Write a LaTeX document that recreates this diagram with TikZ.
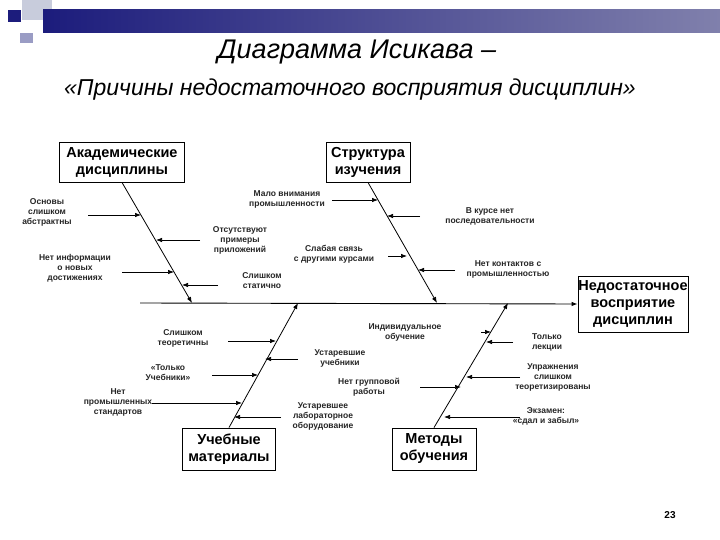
\documentclass[tikz,border=0pt]{standalone}
\usepackage{fontspec}
\setmainfont{Liberation Sans}
\usetikzlibrary{arrows.meta}
\definecolor{navy}{HTML}{1C1C7C}
\definecolor{navyl}{HTML}{8080AC}
\definecolor{sq1}{HTML}{C8CCDC}
\definecolor{sq2}{HTML}{9A9CC4}
\begin{document}
\begin{tikzpicture}[x=1pt,y=-1pt,
  box/.style={draw,line width=0.9pt,font=\bfseries\fontsize{14.5}{17}\selectfont,align=center,inner sep=0pt},
  lbl/.style={font=\bfseries\fontsize{8.5}{10}\selectfont,align=center,inner sep=0pt,text=black!85},
  cause/.style={-{Latex[length=6pt,width=4.5pt]},line width=0.7pt},
  bone/.style={line width=0.8pt,-{Latex[length=6pt,width=4.5pt]}}]
\useasboundingbox (0,0) rectangle (720,540);
\fill[white] (0,0) rectangle (720,540);
% header decoration
\fill[sq1] (22,0) rectangle (52,20);
\fill[sq2] (20,33) rectangle (33,43);
\fill[navy] (8,10) rectangle (21,22);
\shade[left color=navy,right color=navyl] (43,10) rectangle (720,33);
% titles
\node[font=\itshape\fontsize{27}{30}\selectfont] (t1) at (357,52) {Диаграмма Исикава –};
\node[font=\itshape\fontsize{23}{26}\selectfont] (t2) at (350,90) {«Причины недостаточного восприятия дисциплин»};
% boxes
\node[box,minimum width=125,minimum height=40] (A) at (122,162) {Академические\\дисциплины};
\node[box,minimum width=84,minimum height=40] (S) at (368,162) {Структура\\изучения};
\node[box,minimum width=110,minimum height=56] (N) at (633,304) {Недостаточное\\восприятие\\дисциплин};
\node[box,minimum width=93,minimum height=42] (U) at (229,449) {Учебные\\материалы};
\node[box,minimum width=84,minimum height=42] (M) at (434,449) {Методы\\обучения};
% spine
\coordinate (s0) at (140,303);
\draw[cause,line width=0.9pt] (s0) -- (N.west);
% bones
\coordinate (b1e) at (192,303);
\coordinate (b2e) at (437,303);
\coordinate (b3e) at (298,303);
\coordinate (b4e) at (508,303);
\draw[bone] (A.south) -- (b1e);
\draw[bone] (S.south) -- (b2e);
\draw[bone] (U.north) -- (b3e);
\draw[bone] (M.north) -- (b4e);
% bone 1 causes
\node[lbl] (a1) at (47,212) {Основы\\слишком\\абстрактны};
\node[lbl] (a2) at (240,240) {Отсутствуют\\примеры\\приложений};
\node[lbl] (a3) at (75,268) {Нет информации\\о новых\\достижениях};
\node[lbl] (a4) at (262,281) {Слишком\\статично};
\coordinate (p1) at (141,215); \coordinate (q1) at (88,215);
\coordinate (p2) at (156,240); \coordinate (q2) at (200,240);
\coordinate (p3) at (174,272); \coordinate (q3) at (122,272);
\coordinate (p4) at (182,285); \coordinate (q4) at (218,285);
\foreach \i in {1,...,4} \draw[cause] (q\i) -- (p\i);
% bone 2 causes
\node[lbl] (b1) at (287,199) {Мало внимания\\промышленности};
\node[lbl] (b2) at (490,216) {В курсе нет\\последовательности};
\node[lbl] (b3) at (334,254) {Слабая связь\\с другими курсами};
\node[lbl] (b4) at (508,269) {Нет контактов с\\промышленностью};
\coordinate (r1) at (378,200); \coordinate (u1) at (332,200);
\coordinate (r2) at (387,216); \coordinate (u2) at (420,216);
\coordinate (r3) at (407,256); \coordinate (u3) at (388,256);
\coordinate (r4) at (418,270); \coordinate (u4) at (455,270);
\foreach \i in {1,...,4} \draw[cause] (u\i) -- (r\i);
% bone 3 causes
\node[lbl] (c1) at (183,338) {Слишком\\теоретичны};
\node[lbl] (c2) at (340,358) {Устаревшие\\учебники};
\node[lbl] (c3) at (168,373) {«Только\\Учебники»};
\node[lbl] (c4) at (118,402) {Нет\\промышленных\\стандартов};
\node[lbl] (c5) at (323,416) {Устаревшее\\лабораторное\\оборудование};
\coordinate (v1) at (276,341); \coordinate (w1) at (228,341);
\coordinate (v2) at (265,359); \coordinate (w2) at (298,359);
\coordinate (v3) at (258,375); \coordinate (w3) at (212,375);
\coordinate (v4) at (242,403); \coordinate (w4) at (152,403);
\coordinate (v5) at (234,417); \coordinate (w5) at (281,417);
\foreach \i in {1,...,5} \draw[cause] (w\i) -- (v\i);
% bone 4 causes
\node[lbl] (d1) at (405,332) {Индивидуальное\\обучение};
\node[lbl] (d2) at (547,342) {Только\\лекции};
\node[lbl] (d3) at (553,377) {Упражнения\\слишком\\теоретизированы};
\node[lbl] (d4) at (369,387) {Нет групповой\\работы};
\node[lbl] (d5) at (546,416) {Экзамен:\\«сдал и забыл»};
\coordinate (x1) at (491,332); \coordinate (y1) at (481,332);
\coordinate (x2) at (486,342); \coordinate (y2) at (513,342);
\coordinate (x3) at (466,377); \coordinate (y3) at (520,377);
\coordinate (x4) at (461,387); \coordinate (y4) at (420,387);
\coordinate (x5) at (444,417); \coordinate (y5) at (520,417);
\foreach \i in {1,...,5} \draw[cause] (y\i) -- (x\i);
% page number
\node[font=\bfseries\fontsize{10}{12}\selectfont] (pg) at (670,515) {23};
\end{tikzpicture}
\end{document}
